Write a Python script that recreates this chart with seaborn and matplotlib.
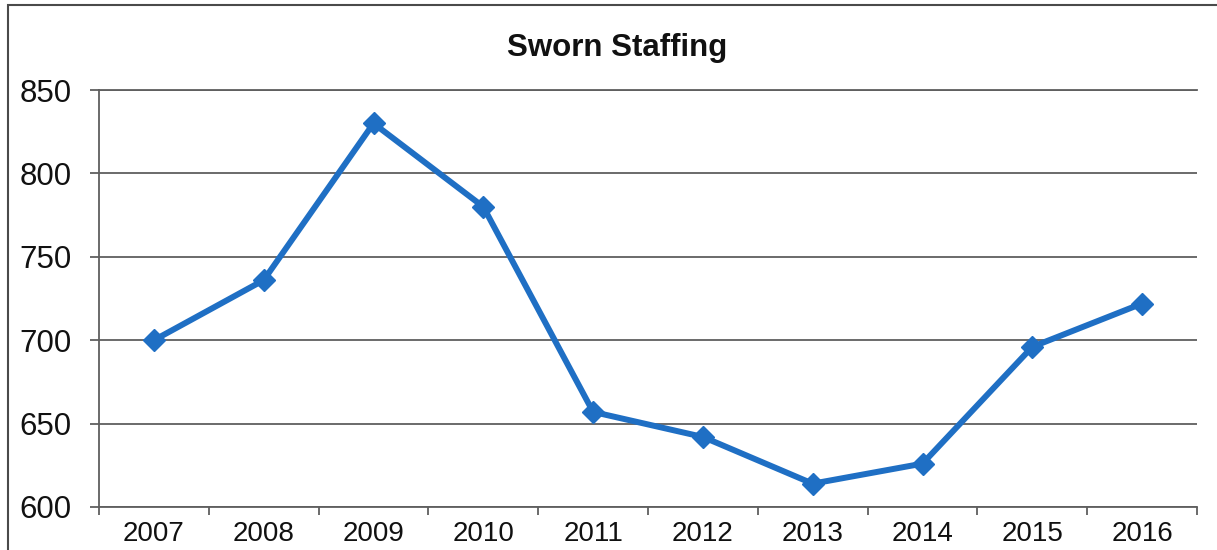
import matplotlib
matplotlib.use("Agg")
import matplotlib.pyplot as plt
import seaborn as sns
import pandas as pd
import numpy as np
from matplotlib.patches import Rectangle
from matplotlib.ticker import FixedLocator

years = ["2007", "2008", "2009", "2010", "2011", "2012", "2013", "2014", "2015", "2016"]
staffing = [700, 736, 830, 780, 657, 642, 614, 626, 696, 722]
y_ticks = [600, 650, 700, 750, 800, 850]
title = "Sworn Staffing"

sns.set_theme(style="white")
plt.rcParams["font.family"] = ["Liberation Sans", "DejaVu Sans"]

W, H = 1217, 550
fig = plt.figure(figsize=(W / 100, H / 100), dpi=100)
ax = fig.add_axes([99 / W, 1 - 507 / H, (1197 - 99) / W, (507 - 90) / H])

df = pd.DataFrame({"year": years, "staff": staffing})
df["pos"] = np.arange(len(years))

grid_color = "#5f5f5f"
line_color = "#1f6fc4"

sns.lineplot(data=df, x="pos", y="staff", ax=ax, color=line_color, linewidth=4.3,
             marker="D", markersize=11.5, markeredgecolor=line_color,
             markeredgewidth=1, zorder=5, clip_on=False)

ax.set_xlim(-0.5, len(years) - 0.5)
ax.set_ylim(600, 850)
ax.set_yticks(y_ticks)
ax.set_yticklabels([str(v) for v in y_ticks], fontsize=22.5)
ax.set_xticks(df["pos"])
ax.set_xticklabels(years, fontsize=20)
ax.xaxis.set_minor_locator(FixedLocator(np.arange(-0.5, len(years), 1.0)))
ax.tick_params(axis="x", which="major", length=0, pad=10, colors="#111111")
ax.tick_params(axis="x", which="minor", length=5.5, width=1.3, color=grid_color, direction="out", bottom=True)
ax.tick_params(axis="y", which="major", length=6.5, width=1.3, direction="out", pad=13, left=True, colors="#111111")
ax.tick_params(axis="y", which="major", color=grid_color)
ax.set_xlabel("")
ax.set_ylabel("")

ax.yaxis.grid(True, color=grid_color, linewidth=1.3)
ax.set_axisbelow(True)
for side in ["left", "bottom", "top"]:
    ax.spines[side].set_visible(True)
    ax.spines[side].set_color(grid_color)
    ax.spines[side].set_linewidth(1.3)
ax.spines["right"].set_visible(False)

fig.text(617.5 / W, 1 - 56 / H, title, ha="center", va="baseline",
         fontsize=22.5, fontweight="bold", color="#111111")

border = Rectangle((8 / W, -0.1), 1.2, 1.1 - 5 / H, transform=fig.transFigure,
                   fill=False, edgecolor="#4a4a4a", linewidth=1.5)
fig.patches.append(border)

fig.savefig("out.png", dpi=100)
